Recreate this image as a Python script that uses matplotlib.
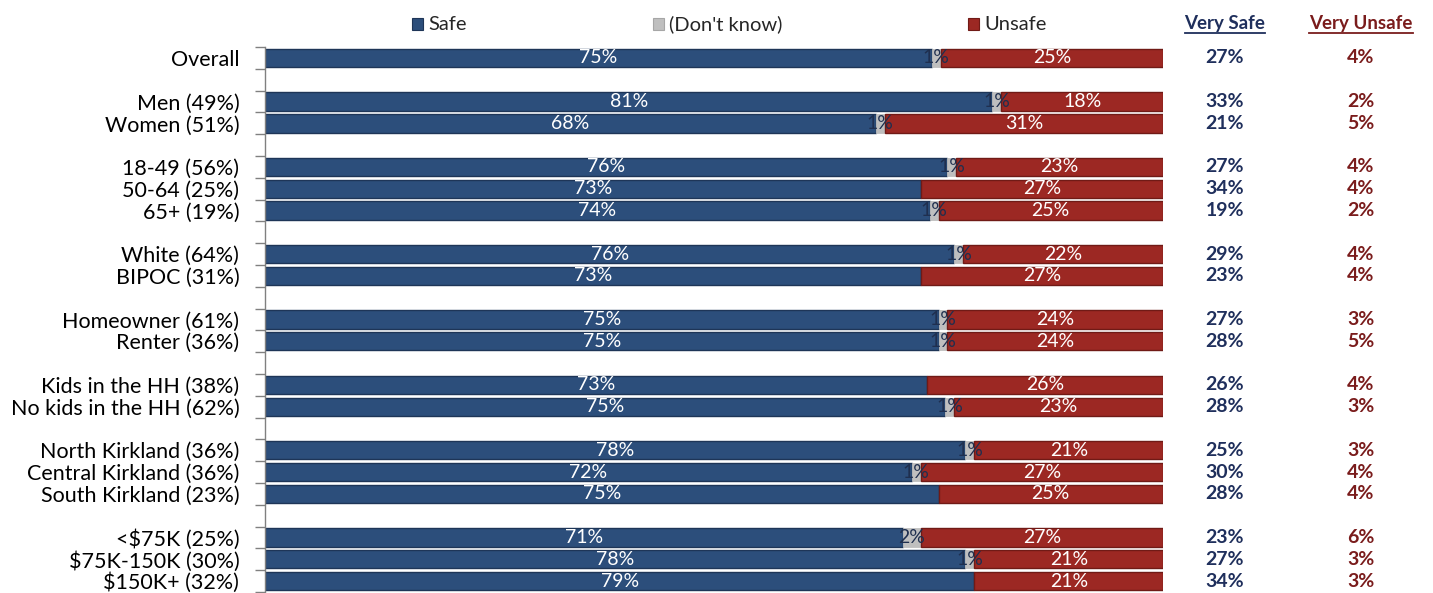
import matplotlib
matplotlib.use("Agg")
import matplotlib.pyplot as plt
from matplotlib.patches import Rectangle
from matplotlib.lines import Line2D
import numpy as np

FONT = ["Lato", "DejaVu Sans"]
plt.rcParams["font.family"] = FONT

categories = ["Overall", None, "Men (49%)", "Women (51%)", None,
              "18-49 (56%)", "50-64 (25%)", "65+ (19%)", None,
              "White (64%)", "BIPOC (31%)", None,
              "Homeowner (61%)", "Renter (36%)", None,
              "Kids in the HH (38%)", "No kids in the HH (62%)", None,
              "North Kirkland (36%)", "Central Kirkland (36%)", "South Kirkland (23%)", None,
              "<$75K (25%)", "$75K-150K (30%)", "$150K+ (32%)"]
safe =        [75, None, 81, 68, None, 76, 73, 74, None, 76, 73, None, 75, 75, None, 73, 75, None, 78, 72, 75, None, 71, 78, 79]
dont_know =   [1, None, 1, 1, None, 1, 0, 1, None, 1, 0, None, 1, 1, None, 0, 1, None, 1, 1, 0, None, 2, 1, 0]
unsafe =      [25, None, 18, 31, None, 23, 27, 25, None, 22, 27, None, 24, 24, None, 26, 23, None, 21, 27, 25, None, 27, 21, 21]
very_safe =   [27, None, 33, 21, None, 27, 34, 19, None, 29, 23, None, 27, 28, None, 26, 28, None, 25, 30, 28, None, 23, 27, 34]
very_unsafe = [4, None, 2, 5, None, 4, 4, 2, None, 4, 4, None, 3, 5, None, 4, 3, None, 3, 4, 4, None, 6, 3, 3]
series_names = ["Safe", "(Don't know)", "Unsafe"]
col_headers = ["Very Safe", "Very Unsafe"]

C_SAFE, C_DK, C_UNSAFE = "#2C4E7B", "#BFBFBF", "#9C2823"
E_SAFE, E_DK, E_UNSAFE = "#1E3557", "#A6A6A6", "#701A16"
NAVY, DRED = "#1F2F5C", "#7A1C1C"

W, H, DPI = 1433, 593, 100
fig = plt.figure(figsize=(W / DPI, H / DPI), dpi=DPI)
x0, x1 = 265, 1163
ytop, ybot = 47.1, 591.9
ax = fig.add_axes([x0 / W, 1 - ybot / H, (x1 - x0) / W, (ybot - ytop) / H])

n = len(categories)
idx = [i for i in range(n) if categories[i] is not None]
s = np.array([safe[i] for i in idx], float)
d = np.array([dont_know[i] for i in idx], float)
u = np.array([unsafe[i] for i in idx], float)
tot = s + d + u
sn, dn, un = s / tot * 100, d / tot * 100, u / tot * 100
ypos = np.array(idx, float)

h = 0.84
ax.barh(ypos, sn, height=h, color=C_SAFE, edgecolor=E_SAFE, linewidth=1)
ax.barh(ypos, dn, left=sn, height=h, color=C_DK, edgecolor=C_DK, linewidth=0.6)
ax.barh(ypos, un, left=sn + dn, height=h, color=C_UNSAFE, edgecolor=E_UNSAFE, linewidth=1)

lab_fs = 14
for k, y in enumerate(ypos):
    ax.text(sn[k] / 2, y, f"{int(s[k])}%", ha="center", va="center", color="white", fontsize=lab_fs)
    if d[k] > 0:
        ax.text(sn[k] + dn[k] / 2, y, f"{int(d[k])}%", ha="center", va="center", color="#1F2F4F", fontsize=lab_fs)
    ax.text(sn[k] + dn[k] + un[k] / 2, y, f"{int(u[k])}%", ha="center", va="center", color="white", fontsize=lab_fs)

ax.set_xlim(0, 100)
ax.set_ylim(n - 0.5, -0.5)
ax.set_yticks(idx)
ax.set_yticklabels([categories[i] for i in idx], fontsize=15.5, color="black")
ax.tick_params(axis="y", length=0, pad=18.5)
ax.set_yticks(np.arange(-0.5, n, 1.0), minor=True)
ax.tick_params(axis="y", which="minor", length=7, color="#808080", width=1)
ax.set_xticks([])
for sp in ["top", "right", "bottom"]:
    ax.spines[sp].set_visible(False)
ax.spines["left"].set_color("#808080")
ax.spines["left"].set_linewidth(1)

# right-hand columns
cx = [(1225 - x0) / (x1 - x0), (1361 - x0) / (x1 - x0)]
tr = ax.get_yaxis_transform()
for k, i in enumerate(idx):
    ax.text(cx[0], i, f"{very_safe[i]}%", transform=tr, ha="center", va="center",
            fontsize=14, fontweight="bold", color=NAVY, clip_on=False)
    ax.text(cx[1], i, f"{very_unsafe[i]}%", transform=tr, ha="center", va="center",
            fontsize=14, fontweight="bold", color=DRED, clip_on=False)

hy = 1 - 23 / H
htexts = []
for j, (name, col) in enumerate(zip(col_headers, [NAVY, DRED])):
    t = fig.text((1225 if j == 0 else 1361) / W, hy, name, ha="center", va="center",
                 fontsize=13.5, fontweight="bold", color=col)
    htexts.append((t, col))

# legend
leg_cols = [C_SAFE, C_DK, C_UNSAFE]
leg_edges = [E_SAFE, E_DK, E_UNSAFE]
leg_x = [412, 653, 968]
ly = 24
sq = 11
for name, c, e, lx in zip(series_names, leg_cols, leg_edges, leg_x):
    fig.add_artist(Rectangle((lx / W, 1 - (ly + sq / 2) / H), sq / W, sq / H,
                             transform=fig.transFigure, facecolor=c, edgecolor=e, linewidth=0.8))
    fig.text((lx + sq + 5) / W, 1 - ly / H, name, ha="left", va="center", fontsize=14.5, color="#262626")

fig.canvas.draw()
r = fig.canvas.get_renderer()
for t, col in htexts:
    bb = t.get_window_extent(r)
    yline = bb.y0 - 1
    fig.add_artist(Line2D([bb.x0 / W, bb.x1 / W], [yline / H, yline / H],
                          transform=fig.transFigure, color=col, linewidth=1.3))

fig.savefig("out.png", dpi=DPI)
